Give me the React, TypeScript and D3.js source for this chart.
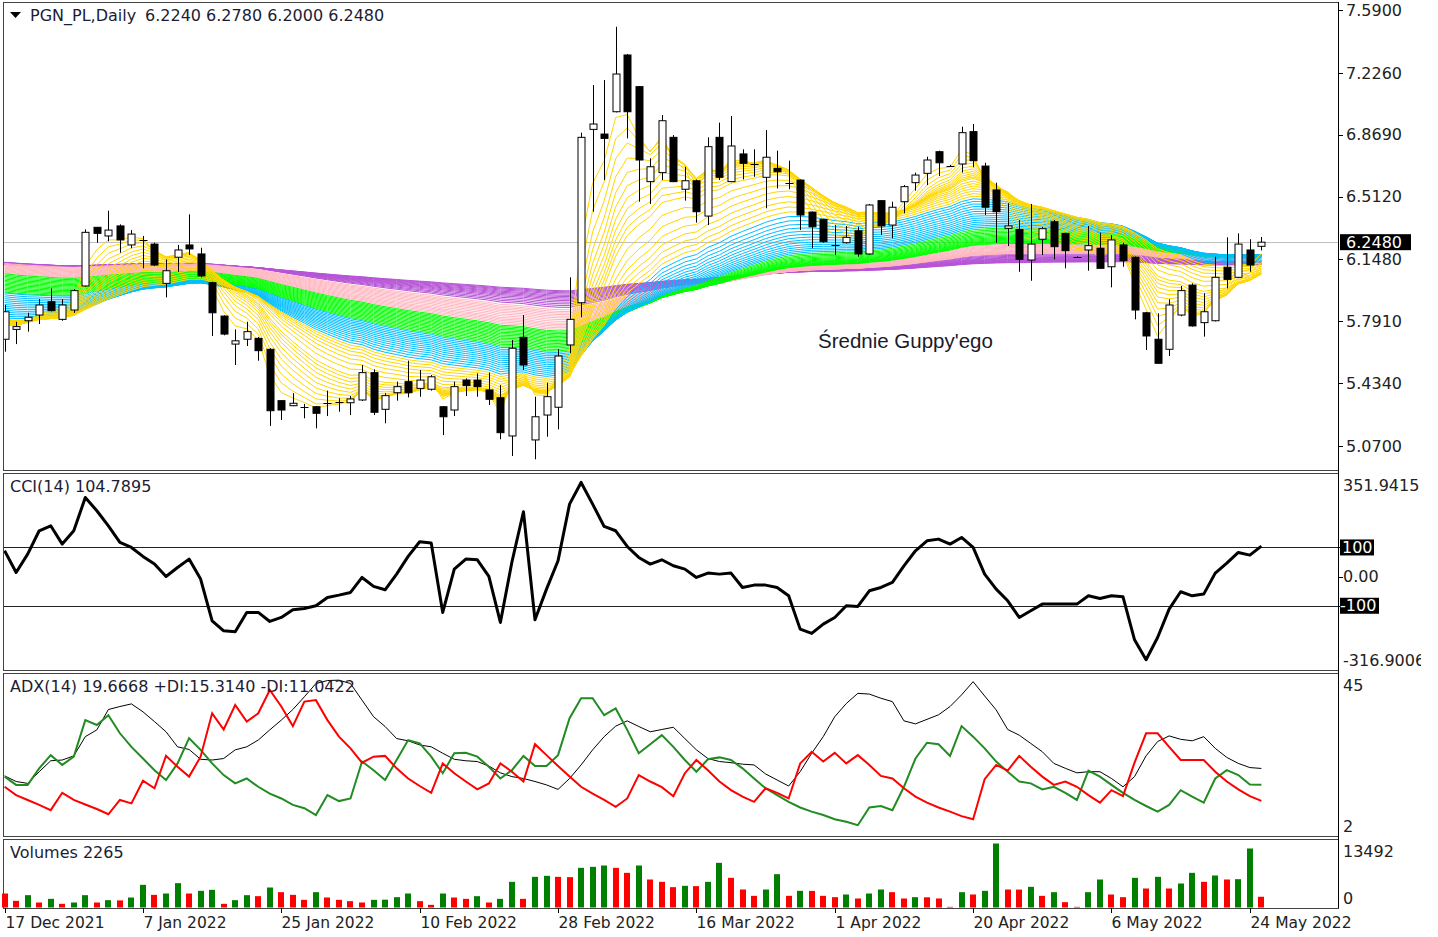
import React from "react";
import * as d3 from "d3";

// ---------------- DATA ----------------
const OPEN = [5.687,5.744,5.794,5.827,5.904,5.802,5.856,5.995,6.334,6.284,
6.342,6.232,6.262,6.237,6.010,6.161,6.232,6.180,6.014,5.821,
5.659,5.687,5.692,5.629,5.332,5.303,5.296,5.297,5.315,5.322,
5.320,5.336,5.494,5.282,5.378,5.442,5.403,5.398,5.297,5.278,
5.451,5.451,5.394,5.349,5.128,5.698,5.105,5.249,5.294,5.654,
5.898,6.900,6.873,7.002,7.330,7.147,6.598,6.650,6.854,6.554,
6.603,6.399,6.854,6.598,6.758,6.700,6.623,6.675,6.590,6.607,
6.422,6.380,6.231,6.245,6.314,6.180,6.488,6.347,6.482,6.592,
6.646,6.771,6.691,6.700,6.887,6.688,6.550,6.328,6.322,6.145,
6.265,6.366,6.299,6.164,6.203,6.213,6.106,6.232,6.161,5.840,
5.687,5.629,5.827,6.000,5.783,5.794,6.103,6.045,6.203,6.224];
const HIGH = [5.885,5.788,5.840,5.920,5.981,5.918,5.977,6.322,6.336,6.430,
6.351,6.318,6.284,6.245,6.149,6.232,6.409,6.216,6.020,5.825,
5.744,5.788,5.700,5.635,5.335,5.375,5.313,5.300,5.390,5.346,
5.359,5.538,5.513,5.375,5.442,5.563,5.509,5.480,5.300,5.442,
5.461,5.490,5.494,5.422,5.683,5.827,5.355,5.436,5.629,6.045,
6.881,7.156,7.185,7.493,7.335,7.150,6.733,6.983,6.867,6.684,
6.610,6.854,6.939,6.977,6.785,6.785,6.896,6.777,6.719,6.610,
6.425,6.383,6.347,6.342,6.337,6.469,6.490,6.482,6.578,6.650,
6.742,6.777,6.695,6.915,6.931,6.707,6.592,6.473,6.376,6.469,
6.337,6.376,6.302,6.166,6.342,6.303,6.289,6.245,6.165,5.845,
5.837,5.918,5.995,6.010,5.953,6.164,6.276,6.299,6.265,6.278];
const LOW = [5.615,5.659,5.731,5.775,5.848,5.794,5.839,5.990,6.245,6.253,
6.187,6.213,6.097,6.110,5.929,6.077,6.174,6.045,5.706,5.710,
5.538,5.648,5.563,5.186,5.220,5.300,5.230,5.172,5.243,5.268,
5.249,5.330,5.249,5.201,5.332,5.351,5.355,5.390,5.133,5.243,
5.359,5.355,5.307,5.109,5.012,5.509,4.993,5.124,5.166,5.606,
5.814,6.424,6.607,6.998,6.848,6.482,6.469,6.607,6.595,6.488,
6.361,6.347,6.607,6.595,6.611,6.626,6.444,6.559,6.554,6.318,
6.213,6.245,6.174,6.240,6.164,6.175,6.289,6.270,6.415,6.546,
6.578,6.631,6.686,6.650,6.681,6.405,6.245,6.226,6.077,6.025,
6.174,6.149,6.097,6.158,6.083,6.095,5.987,6.106,5.802,5.625,
5.545,5.590,5.820,5.760,5.702,5.790,5.981,6.040,6.077,6.200];
const CLOSE = [5.846,5.760,5.814,5.885,5.852,5.885,5.968,6.305,6.299,6.318,
6.261,6.295,6.258,6.116,6.083,6.203,6.209,6.053,5.840,5.717,
5.678,5.731,5.621,5.274,5.278,5.317,5.294,5.259,5.318,5.321,
5.342,5.494,5.265,5.361,5.413,5.378,5.451,5.470,5.239,5.413,
5.419,5.413,5.340,5.147,5.635,5.538,5.239,5.355,5.590,5.802,
6.854,6.931,6.848,7.220,7.002,6.723,6.684,6.950,6.598,6.603,
6.424,6.800,6.623,6.804,6.704,6.697,6.739,6.655,6.587,6.405,
6.337,6.251,6.229,6.276,6.180,6.463,6.342,6.450,6.569,6.636,
6.723,6.707,6.689,6.881,6.719,6.450,6.424,6.342,6.149,6.237,
6.326,6.222,6.199,6.160,6.228,6.097,6.261,6.141,5.856,5.706,
5.548,5.885,5.968,5.764,5.846,6.045,6.033,6.237,6.116,6.248];
const VOLUME = [2951,1405,2600,1054,1827,773,1054,2600,1054,1546,
1500,2108,4778,2670,2951,5130,2951,3514,3724,773,
1546,2600,2389,4216,3232,2670,1616,3232,2108,1616,
1335,1054,1616,1650,2178,2951,1335,562,2951,2108,
1827,2389,1054,1827,5411,1827,6465,6676,6465,6400,
8362,8573,8854,8362,7308,8854,5903,5411,4287,4568,
4500,5411,9416,6254,3795,2459,3795,7027,2459,3514,
3500,2459,2178,2741,1897,2951,3795,3232,1897,2178,
2150,1897,141,3232,2741,3514,13492,3795,3780,4357,
2459,3232,1124,141,3232,5903,2741,2178,6254,4005,
6465,4005,5059,7308,5411,6746,5903,5973,12438,2265];
const CCI = [88.6,14.3,77.1,157.2,174.3,111.5,157.2,271.5,225.8,174.3,
117.2,100,69.2,42.9,0.5,31.4,60,-8.6,-151.5,-185.8,
-189.2,-122.9,-122.9,-153.8,-140.1,-113.8,-109.2,-100,-71.5,-63.5,
-54.3,-2.9,-33.7,-45.2,8.5,69.2,119.5,114.9,-122.9,25.7,
60,57.7,0.5,-157.2,50,222.4,-148,-42.9,54.3,248.7,
323,248.7,172,157.2,103.4,65.7,42.9,57.7,37.1,25.7,
-2.9,12,8.5,12,-37.2,-29.2,-29.2,-37.2,-65.8,-180.1,
-194.9,-163,-140.1,-100,-102.3,-48.6,-37.2,-20,37.1,88.6,
122.9,128.6,111.5,134.3,100,8.5,-42.9,-82.9,-140.1,-117.2,
-94.3,-94.3,-94.3,-94.3,-65.8,-74.9,-65.8,-69.2,-216.7,-285.3,
-208.7,-111.5,-52,-65.8,-60,12,46.3,82.9,73.7,104.7895];
const ADX = [17.7,16.2,15.7,18.8,21.7,21.9,23.0,28.1,29.9,35.3,
36.1,36.8,34.7,32.1,29.4,25.4,24.7,22.1,21.9,22.3,
24.6,25.4,27.2,29.9,32.5,35.3,38.7,42.2,43.0,43.1,
42.2,37.8,33.4,30.8,27.6,27.0,25.9,25.4,23.7,22.1,
21.7,21.5,20.3,18.5,17.5,17.0,16.2,15.3,14.1,17.0,
20.6,24.6,28.1,30.9,32.3,30.8,29.4,30.0,30.6,27.6,
24.6,22.3,21.5,21.2,20.8,20.6,18.2,16.6,15.0,18.8,
23.7,28.1,33.4,36.9,39.6,39.4,38.3,37.4,32.3,31.5,
32.7,33.9,36.1,39.2,42.7,38.9,35.2,30.0,28.5,26.3,
24.1,21.0,19.7,18.5,18.8,18.8,17.0,14.8,17.5,23.0,
26.8,28.3,27.4,27.0,28.1,25.0,22.6,21.0,19.9,19.6668];
const PLUS_DI = [17.5,15.3,15.3,19.7,23.2,20.6,22.8,32.5,31.2,33.8,
29.0,25.4,22.3,19.2,16.6,21.0,27.7,24.6,21.0,17.9,
15.7,17.0,14.8,13.0,11.7,10.0,9.1,7.3,12.6,11.0,
11.7,21.5,19.2,16.6,21.9,27.2,26.3,22.8,18.4,23.7,
23.8,22.8,20.1,17.0,19.2,23.0,20.3,20.3,23.2,33.0,
38.3,38.3,33.8,35.6,29.9,23.7,26.1,28.5,25.4,21.9,
18.8,22.1,22.6,21.9,19.7,17.0,14.4,12.6,10.8,9.3,
8.2,7.3,6.2,5.5,4.6,9.3,9.7,8.6,14.8,22.3,
26.5,26.1,23.0,30.9,28.1,25.0,21.5,18.8,16.2,15.7,
14.1,14.8,13.2,11.3,19.1,17.5,15.3,13.2,11.3,9.7,
8.2,10.0,13.9,12.2,10.6,17.0,19.2,17.9,15.4,15.314];
const MINUS_DI = [14.8,12.6,11.3,10.0,8.6,13.2,11.3,10.1,8.9,7.5,
11.3,10.4,16.4,14.4,23.0,20.1,17.5,22.8,34.3,30.0,
36.5,32.1,34.3,40.5,36.1,30.9,37.4,37.8,32.5,28.1,
25.0,21.2,22.8,23.0,19.7,17.0,15.0,13.2,21.0,18.4,
16.2,14.1,15.7,21.0,18.8,16.2,26.1,23.2,20.3,17.5,
14.8,13.0,11.3,9.5,11.7,17.9,16.2,14.7,12.3,18.4,
21.9,19.2,16.2,13.9,12.2,10.8,14.4,13.2,11.7,21.0,
24.1,21.5,23.8,21.0,23.2,20.6,17.7,17.0,14.4,12.2,
10.6,9.3,8.2,7.0,6.2,16.8,20.6,19.1,23.0,20.1,
17.5,15.3,16.2,14.8,12.6,10.6,13.9,12.3,21.2,29.0,
29.0,25.4,21.9,21.9,21.9,18.8,16.2,14.1,12.3,11.0422];

const DATE_LABELS = ["17 Dec 2021","7 Jan 2022","25 Jan 2022","10 Feb 2022","28 Feb 2022","16 Mar 2022","1 Apr 2022","20 Apr 2022","6 May 2022","24 May 2022"];
const LABEL_STEP = 12;
const PRICE_TICKS = [7.59,7.226,6.869,6.512,6.148,5.791,5.434,5.07];
const PRICE_DOMAIN = [5.07, 7.59];
const CCI_DOMAIN = [-316.9006, 351.9415];
const CCI_LEVELS = [100, -100];
const ADX_DOMAIN = [2, 45];
const VOL_MAX = 13492;
const TITLE_SYMBOL = "PGN_PL,Daily";
const TITLE_OHLC = "6.2240 6.2780 6.2000 6.2480";

// Guppy ribbons (EMA periods), drawn longest first; seeds = EMA level at the first visible bar
const GUPPY_PERIODS = [
  [140,148,156,165,174,183,192,202,212,224,236,248,260],
  [88,91,94,97,100,104,108,112,116,120,124,128,133],
  [57,59,61,63,65,67,69,71,73,75,77,79,81,83,85],
  [29,31,33,35,37,39,41,43,45,47,49,51,53,55],
  [3,4,5,6,7,8,9,10,11,12,13,15,17,19,21,23,25,27],
];
const GUPPY_SEEDS = [[6.132,6.118],[6.07,6.125],[5.96,6.065],[5.81,5.955],[5.77,5.80]];
const GUPPY_COLORS = ["#B653D6","#FFB6C1","#00FF00","#00BFFF","#FFD700"];

// ---------------- LAYOUT ----------------
const W = 1438, H = 937;
const PL = 3, PR = 1338;
const MAIN = { top: 2, bottom: 470 };
const CCIP = { top: 473, bottom: 670 };
const ADXP = { top: 673, bottom: 836 };
const VOLP = { top: 839, bottom: 908 };
const FONT = "DejaVu Sans, Verdana, sans-serif";
const FS = 16;
const TXT = "#1c1c34";

function ema(period: number, seed: number) {
  const a = 2 / (period + 1);
  const out: number[] = [seed];
  for (let i = 1; i < CLOSE.length; i++) out.push(out[i - 1] + a * (CLOSE[i] - out[i - 1]));
  return out;
}

export default function App() {
  const N = CLOSE.length;
  const x = d3.scaleLinear().domain([0, N - 1]).range([4.6, 4.6 + 11.53 * (N - 1)]);
  const yP = d3.scaleLinear().domain(PRICE_DOMAIN).range([446, 10]);
  const yC = d3.scaleLinear().domain(CCI_DOMAIN).range([669, 474]);
  const yA = d3.scaleLinear().domain(ADX_DOMAIN).range([835, 673]);
  const yV = d3.scaleLinear().domain([0, VOL_MAX]).range([907.5, 843.5]);

  const lineOf = (arr: number[], y: d3.ScaleLinear<number, number>) =>
    d3.line<number>().x((_, i) => x(i)).y((d) => y(d))(arr) || "";

  const ribbons: { d: string; color: string }[] = [];
  GUPPY_PERIODS.forEach((periods, g) => {
    const [s0, s1] = GUPPY_SEEDS[g];
    periods.forEach((p, j) => {
      const seed = s0 + ((s1 - s0) * j) / Math.max(1, periods.length - 1);
      ribbons.push({ d: lineOf(ema(p, seed), yP), color: GUPPY_COLORS[g] });
    });
  });

  const px = (i: number) => Math.round(x(i)) + 0.5;
  const last = CLOSE[N - 1];

  const paneRect = (p: { top: number; bottom: number }) => (
    <rect x={PL + 0.5} y={p.top + 0.5} width={PR - PL} height={p.bottom - p.top} fill="#fff" stroke="#444" strokeWidth={1} />
  );

  const axisTick = (y: number, key: string) => (
    <line key={key} x1={PR} x2={PR + 5} y1={Math.round(y) + 0.5} y2={Math.round(y) + 0.5} stroke="#000" />
  );

  return (
    <svg width={W} height={H} style={{ position: "fixed", left: 0, top: 0, background: "#fff" }} fontFamily={FONT}>
      <rect x={0} y={0} width={W} height={H} fill="#fff" />
      <defs>
        <clipPath id="mainClip"><rect x={PL + 1} y={MAIN.top + 1} width={PR - PL - 1} height={MAIN.bottom - MAIN.top - 1} /></clipPath>
        <clipPath id="cciClip"><rect x={PL + 1} y={CCIP.top + 1} width={PR - PL - 1} height={CCIP.bottom - CCIP.top - 1} /></clipPath>
        <clipPath id="adxClip"><rect x={PL + 1} y={ADXP.top + 1} width={PR - PL - 1} height={ADXP.bottom - ADXP.top - 1} /></clipPath>
        <clipPath id="axisClip"><rect x={PR} y={0} width={1421 - PR} height={H} /></clipPath>
      </defs>

      {paneRect(MAIN)}
      {paneRect(CCIP)}
      {paneRect(ADXP)}
      {paneRect(VOLP)}

      {/* MAIN PANE */}
      <g clipPath="url(#mainClip)">
        <line x1={PL} x2={PR} y1={Math.round(yP(last)) + 0.5} y2={Math.round(yP(last)) + 0.5} stroke="#C0C0C0" />
        {ribbons.map((r, k) => (
          <path key={k} d={r.d} fill="none" stroke={r.color} strokeWidth={1} />
        ))}
        {CLOSE.map((c, i) => {
          const o = OPEN[i];
          const bull = c >= o;
          const cx = px(i);
          const top = yP(Math.max(o, c));
          const bot = yP(Math.min(o, c));
          const h = bot - top;
          return (
            <g key={i}>
              <line x1={cx} x2={cx} y1={yP(HIGH[i])} y2={yP(LOW[i])} stroke="#000" strokeWidth={1} />
              {h < 1.5 ? (
                <line x1={cx - 4} x2={cx + 4} y1={Math.round(top) + 0.5} y2={Math.round(top) + 0.5} stroke="#000" />
              ) : (
                <rect x={cx - 3.5} y={top} width={7} height={h} fill={bull ? "#fff" : "#000"} stroke="#000" strokeWidth={1} />
              )}
            </g>
          );
        })}
      </g>
      <path d="M10,12 L21,12 L15.5,18 Z" fill="#000" />
      <text x={30} y={21} fontSize={FS} fill={TXT}>{TITLE_SYMBOL}</text>
      <text x={145} y={21} fontSize={FS} fill={TXT}>{TITLE_OHLC}</text>
      <text x={818} y={348} fontSize={20.5} fontFamily="Liberation Sans, Arial, sans-serif" fill="#1a1a2a">Średnie Guppy'ego</text>

      {/* CCI */}
      <g clipPath="url(#cciClip)">
        {CCI_LEVELS.map((lv) => (
          <line key={lv} x1={PL} x2={PR} y1={Math.round(yC(lv)) + 0.5} y2={Math.round(yC(lv)) + 0.5} stroke="#222" />
        ))}
        <path d={lineOf(CCI, yC)} fill="none" stroke="#000" strokeWidth={3} strokeLinejoin="round" />
      </g>
      <text x={10} y={492} fontSize={FS} fill={TXT}>CCI(14) 104.7895</text>

      {/* ADX */}
      <g clipPath="url(#adxClip)">
        <path d={lineOf(ADX, yA)} fill="none" stroke="#000" strokeWidth={1} />
        <path d={lineOf(PLUS_DI, yA)} fill="none" stroke="#228B22" strokeWidth={2} />
        <path d={lineOf(MINUS_DI, yA)} fill="none" stroke="#FF0000" strokeWidth={2} />
      </g>
      <text x={10} y={692} fontSize={FS} fill={TXT}>ADX(14) 19.6668 +DI:15.3140 -DI:11.0422</text>

      {/* VOLUME */}
      {VOLUME.map((v, i) => {
        const up = i > 0 && v > VOLUME[i - 1];
        const y0 = yV(v);
        return <rect key={i} x={Math.round(x(i)) - 3} y={y0} width={6} height={yV(0) - y0} fill={up ? "#008000" : "#FF0000"} />;
      })}
      <text x={10} y={858} fontSize={FS} fill={TXT}>Volumes 2265</text>

      {/* RIGHT AXES */}
      <line x1={PR + 0.5} x2={PR + 0.5} y1={MAIN.top} y2={VOLP.bottom} stroke="#000" />
      <g clipPath="url(#axisClip)">
        {PRICE_TICKS.map((t) => (
          <g key={t}>
            {axisTick(yP(t), "p" + t)}
            <text x={1346} y={yP(t)} dy="0.35em" fontSize={FS} fill="#222">{t.toFixed(4)}</text>
          </g>
        ))}
        <rect x={1340} y={yP(last) - 8} width={71} height={16} fill="#000" />
        <text x={1346} y={yP(last)} dy="0.35em" fontSize={FS} fill="#fff">{last.toFixed(4)}</text>

        {axisTick(yC(0), "c0")}
        {CCI_LEVELS.map((lv) => axisTick(yC(lv), "cl" + lv))}
        <text x={1343} y={485} dy="0.35em" fontSize={FS} fill="#222">{CCI_DOMAIN[1].toFixed(4)}</text>
        <text x={1343} y={yC(0)} dy="0.35em" fontSize={FS} fill="#222">0.00</text>
        <text x={1343} y={660} dy="0.35em" fontSize={FS} fill="#222">{CCI_DOMAIN[0].toFixed(4)}</text>
        <rect x={1340} y={yC(100) - 8} width={34} height={16} fill="#000" />
        <text x={1342} y={yC(100)} dy="0.35em" fontSize={FS} fill="#fff">100</text>
        <rect x={1340} y={yC(-100) - 8} width={39} height={16} fill="#000" />
        <text x={1340} y={yC(-100)} dy="0.35em" fontSize={FS} fill="#fff">-100</text>

        <text x={1343} y={685} dy="0.35em" fontSize={FS} fill="#222">{ADX_DOMAIN[1]}</text>
        <text x={1343} y={826} dy="0.35em" fontSize={FS} fill="#222">{ADX_DOMAIN[0]}</text>
        <text x={1343} y={851} dy="0.35em" fontSize={FS} fill="#222">{VOL_MAX}</text>
        <text x={1343} y={898} dy="0.35em" fontSize={FS} fill="#222">0</text>
      </g>

      {/* TIME AXIS */}
      {DATE_LABELS.map((lab, k) => {
        const tx = px(k * LABEL_STEP);
        return (
          <g key={lab}>
            <line x1={tx} x2={tx} y1={VOLP.bottom} y2={VOLP.bottom + 5} stroke="#000" />
            <text x={tx} y={928} fontSize={15.5} fill="#222">{lab}</text>
          </g>
        );
      })}
    </svg>
  );
}
